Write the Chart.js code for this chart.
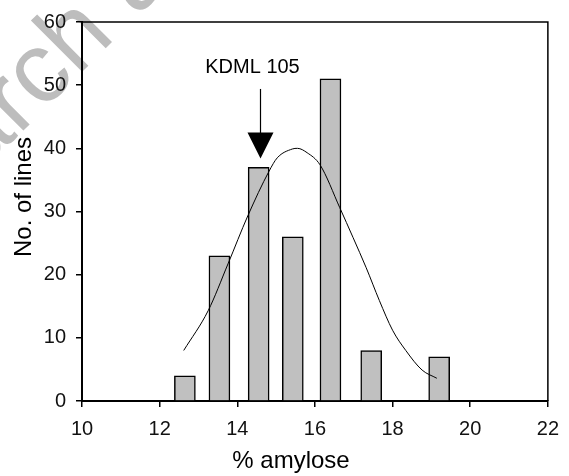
<!DOCTYPE html>
<html>
<head>
<meta charset="utf-8">
<script src="https://cdn.jsdelivr.net/npm/chart.js@4/dist/chart.umd.min.js"></script>
<style>
  html, body { margin: 0; padding: 0; background: #fff; }
  #wrap { width: 569px; height: 476px; position: relative; }
</style>
</head>
<body>
<div id="wrap"><canvas id="chart"></canvas></div>
<script>
// histogram of amylose content
const binCenters = [12.65, 13.54, 14.55, 15.43, 16.4, 17.45, 19.2]
const lineCounts = [4, 23, 37, 26, 51, 8, 7]

// fitted normal curve
const curveX = [12.62, 13.25, 13.76, 14.27, 14.82, 15.03, 15.42, 15.55, 15.8, 16.13, 16.64, 16.98, 17.32, 17.66, 18.0, 18.34, 18.76, 19.14]
const curveY = [8.0, 14.3, 21.7, 29.3, 36.4, 38.5, 39.9, 40.0, 39.3, 37.4, 30.6, 25.9, 21.1, 15.9, 11.2, 8.0, 4.9, 3.6]

const xTicks = [10, 12, 14, 16, 18, 20, 22]
const yTicks = [0, 10, 20, 30, 40, 50, 60]

const arrowLabel = "KDML 105"
const arrowAt = 14.58     // bar the arrow points to
const xTitle = "% amylose"
const yTitle = "No. of lines"
const watermark = "Research article"

Chart.defaults.font.family = '"Liberation Sans", Arial, sans-serif'
Chart.defaults.color = "#000"

const barData = binCenters.map((x, i) => ({ x: x, y: lineCounts[i] }))
const curveData = curveX.map((x, i) => ({ x: x, y: curveY[i] }))

// faint watermark behind everything
const watermarkPlugin = {
  id: "watermark",
  beforeDraw(chart) {
    const ctx = chart.ctx
    ctx.save()
    ctx.translate(-186, 340)
    ctx.rotate(-Math.PI / 4)
    ctx.font = '100px "Liberation Sans", Arial, sans-serif'
    ctx.fillStyle = "#bdbdbd"
    ctx.textBaseline = "alphabetic"
    ctx.fillText(watermark, 0, 0)
    ctx.restore()
  }
}

// box, arrow with label, axis titles
const decorPlugin = {
  id: "decor",
  afterDraw(chart) {
    const ctx = chart.ctx
    const area = chart.chartArea
    const xs = chart.scales.x
    const ys = chart.scales.y

    ctx.save()
    ctx.strokeStyle = "#000"
    ctx.lineWidth = 1.5
    ctx.beginPath()
    ctx.moveTo(area.left, area.top)
    ctx.lineTo(area.right, area.top)
    ctx.lineTo(area.right, area.bottom)
    ctx.stroke()

    // arrow
    const ax = Math.round(xs.getPixelForValue(arrowAt)) + 0.5
    const tip = ys.getPixelForValue(38.4)
    const tail = ys.getPixelForValue(49.4)
    ctx.lineWidth = 1.2
    ctx.beginPath()
    ctx.moveTo(ax, tail)
    ctx.lineTo(ax, tip - 20)
    ctx.stroke()
    ctx.fillStyle = "#000"
    ctx.beginPath()
    ctx.moveTo(ax - 13, tip - 26)
    ctx.lineTo(ax + 13, tip - 26)
    ctx.lineTo(ax, tip)
    ctx.closePath()
    ctx.fill()

    ctx.font = '20px "Liberation Sans", Arial, sans-serif'
    ctx.textAlign = "center"
    ctx.textBaseline = "alphabetic"
    ctx.fillText(arrowLabel, ax - 8, ys.getPixelForValue(52.0))

    // axis titles
    ctx.font = '24px "Liberation Sans", Arial, sans-serif'
    ctx.textBaseline = "middle"
    ctx.fillText(xTitle, 291, 461)
    ctx.translate(24, 197)
    ctx.rotate(-Math.PI / 2)
    ctx.fillText(yTitle, 0, 0)
    ctx.restore()
  }
}

new Chart(document.getElementById("chart"), {
  type: "bar",
  data: {
    datasets: [
      {
        type: "line",
        data: curveData,
        borderColor: "#000",
        borderWidth: 1,
        pointRadius: 0,
        fill: false,
        cubicInterpolationMode: "monotone",
        order: 1
      },
      {
        type: "bar",
        data: barData,
        backgroundColor: "#c0c0c0",
        borderColor: "#000",
        borderWidth: 1.5,
        barThickness: 21,
        order: 2
      }
    ]
  },
  options: {
    responsive: true,
    maintainAspectRatio: false,
    animation: false,
    layout: { padding: { left: 0, top: 20, right: 15, bottom: 0 } },
    plugins: {
      legend: { display: false },
      tooltip: { enabled: false }
    },
    scales: {
      x: {
        type: "linear",
        min: 10,
        max: 22,
        offset: false,
        afterBuildTicks: (scale) => { scale.ticks = xTicks.map(v => ({ value: v })) },
        afterFit: (scale) => { scale.height = 75 },
        ticks: { font: { size: 20 }, color: "#111", padding: 10, maxRotation: 0 },
        grid: { offset: false, drawOnChartArea: false, drawTicks: true, tickLength: 6, color: "#000", lineWidth: 1.5 },
        border: { display: true, color: "#000", width: 2 }
      },
      y: {
        min: 0,
        max: 60,
        afterBuildTicks: (scale) => { scale.ticks = yTicks.map(v => ({ value: v })) },
        afterFit: (scale) => { scale.width = 82 },
        ticks: { font: { size: 20 }, color: "#111", padding: 10 },
        grid: { drawOnChartArea: false, drawTicks: true, tickLength: 6, color: "#000", lineWidth: 1.5 },
        border: { display: true, color: "#000", width: 2 }
      }
    }
  },
  plugins: [watermarkPlugin, decorPlugin]
})
</script>
</body>
</html>
